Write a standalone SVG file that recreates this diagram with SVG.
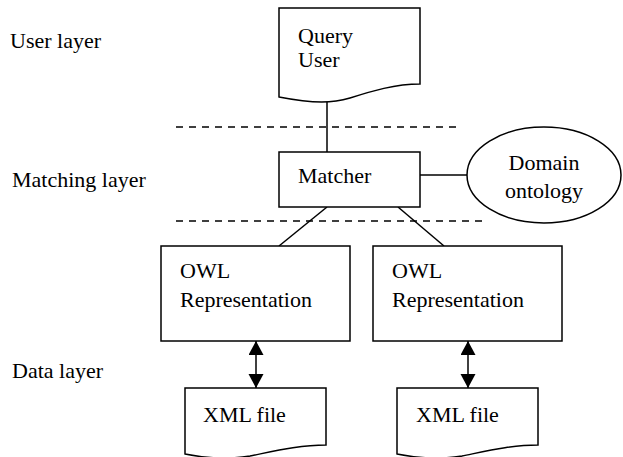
<svg xmlns="http://www.w3.org/2000/svg" width="623" height="457" viewBox="0 0 623 457">
<style>
text{font-family:"Liberation Serif","Times New Roman",serif;font-size:22px;fill:#000}
.s{fill:#fff;stroke:#000;stroke-width:1.5}
.c{fill:none;stroke:#000;stroke-width:1.5}
.d{fill:none;stroke:#000;stroke-width:1.5;stroke-dasharray:7 6}
</style>
<defs>
<marker id="ah" markerUnits="userSpaceOnUse" markerWidth="16" markerHeight="16" refX="14" refY="7.5" orient="auto-start-reverse" viewBox="0 0 16 16">
<path d="M0,0 L14,7.5 L0,15 Z" fill="#000"/>
</marker>
</defs>
<rect width="623" height="457" fill="#fff"/>
<g id="layers">
<text x="10" y="48">User layer</text>
<text x="12" y="187">Matching layer</text>
<text x="12" y="378">Data layer</text>
<line class="d" x1="176" y1="127" x2="462" y2="127"/>
<line class="d" x1="176" y1="221" x2="488" y2="221"/>
</g>
<g id="connectors">
<line class="c" x1="327" y1="101" x2="327" y2="152"/>
<line class="c" x1="420" y1="175" x2="467" y2="175"/>
<line class="c" x1="327" y1="207" x2="279" y2="246"/>
<line class="c" x1="398" y1="207" x2="444" y2="246"/>
<line class="c" x1="256" y1="341" x2="256" y2="388" marker-start="url(#ah)" marker-end="url(#ah)"/>
<line class="c" x1="468" y1="341" x2="468" y2="388" marker-start="url(#ah)" marker-end="url(#ah)"/>
</g>
<g id="query">
<path class="s" d="M279,8 H420 V84 C395,84 372,91 350,98 C333,103 315,104 279,97 Z"/>
<text x="298" y="43">Query</text>
<text x="298" y="67">User</text>
</g>
<g id="matcher">
<rect class="s" x="279" y="152" width="141" height="55"/>
<text x="298" y="183">Matcher</text>
</g>
<g id="ontology">
<ellipse class="s" cx="544" cy="175" rx="77" ry="48"/>
<text x="544" y="170" text-anchor="middle">Domain</text>
<text x="544" y="198" text-anchor="middle">ontology</text>
</g>
<g id="owl1">
<rect class="s" x="161" y="246" width="189" height="95"/>
<text x="180" y="278">OWL</text>
<text x="180" y="307">Representation</text>
</g>
<g id="owl2">
<rect class="s" x="373" y="246" width="189" height="95"/>
<text x="392" y="278">OWL</text>
<text x="392" y="307">Representation</text>
</g>
<g id="xml1">
<path class="s" d="M185,388 H326 V445 C300,445 275,451 250,456 C232,459 210,459 185,454 Z"/>
<text x="203" y="422">XML file</text>
</g>
<g id="xml2">
<path class="s" d="M397,388 H538 V445 C512,445 487,451 462,456 C444,459 422,459 397,454 Z"/>
<text x="416" y="422">XML file</text>
</g>
</svg>
